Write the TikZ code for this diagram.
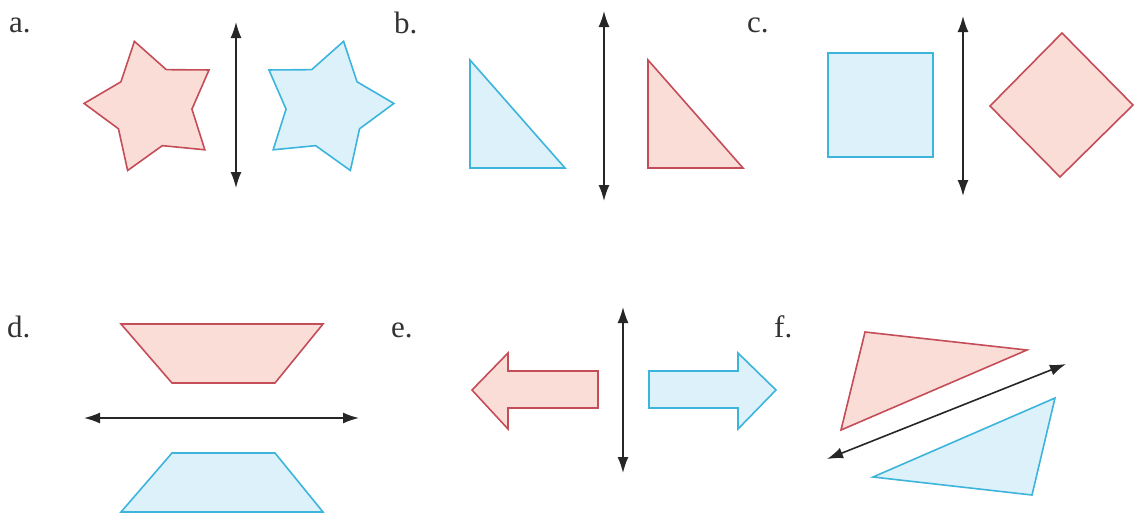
\documentclass[tikz,border=0pt]{standalone}
\usepackage{fontspec}
\setmainfont{Liberation Serif}
\usetikzlibrary{arrows.meta}
\definecolor{rline}{HTML}{C44D58}
\definecolor{rfill}{HTML}{F9DDD6}
\definecolor{bline}{HTML}{3CB4DC}
\definecolor{bfill}{HTML}{DDF1FA}
\begin{document}
\begin{tikzpicture}[x=1pt,y=-1pt,
  redshape/.style={draw=rline,fill=rfill,line width=1.6pt,line join=miter},
  blueshape/.style={draw=bline,fill=bfill,line width=1.6pt,line join=miter},
  axis/.style={{Latex[length=16pt,width=11pt]}-{Latex[length=16pt,width=11pt]},line width=1.6pt,black!85},
  lab/.style={anchor=base west,inner sep=0pt,text=black!80,font=\fontsize{31}{36}\selectfont}]
\useasboundingbox (0,0) rectangle (1138,515);
% labels
\node[lab] (la) at (9,32) {a.};
\node[lab] (lb) at (394,33) {b.};
\node[lab] (lc) at (747,32) {c.};
\node[lab] (ld) at (7,337) {d.};
\node[lab] (le) at (391,337) {e.};
\node[lab] (lf) at (774,337) {f.};
% a: stars (y axis points down, so polar angles are negated)
\draw[redshape,shift={(152,107)}] (-33:68) -- (-69:40) -- (-105:68) -- (-141:40) -- (-177:68) -- (-213:40) -- (-249:68) -- (-285:40) -- (-321:68) -- (-357:40) -- cycle;
\draw[blueshape,shift={(326,107)}] (-147:68) -- (-111:40) -- (-75:68) -- (-39:40) -- (-3:68) -- (-327:40) -- (-291:68) -- (-255:40) -- (-219:68) -- (-183:40) -- cycle;
\coordinate (a1) at (236,22);
\coordinate (a2) at (236,188);
\draw[axis] (a1) -- (a2);
% b: right triangles
\draw[blueshape] (470,60) -- (470,168) -- (565,168) -- cycle;
\draw[redshape] (648,60) -- (648,168) -- (743,168) -- cycle;
\coordinate (b1) at (604,11);
\coordinate (b2) at (604,201);
\draw[axis] (b1) -- (b2);
% c: square and diamond
\draw[blueshape] (828,53) rectangle (933,157);
\draw[redshape] (1062,33) -- (1133,105) -- (1060,177) -- (990,106) -- cycle;
\coordinate (c1) at (963,16);
\coordinate (c2) at (963,196);
\draw[axis] (c1) -- (c2);
% d: trapezoids
\draw[redshape] (121,324) -- (323,324) -- (275,383) -- (172,383) -- cycle;
\draw[blueshape] (172,453) -- (275,453) -- (323,512) -- (121,512) -- cycle;
\coordinate (d1) at (84,418);
\coordinate (d2) at (359,418);
\draw[axis] (d1) -- (d2);
% e: block arrows
\draw[redshape] (472,390) -- (508,353) -- (508,371) -- (598,371) -- (598,408) -- (508,408) -- (508,429) -- cycle;
\draw[blueshape] (776,390) -- (738,353) -- (738,371) -- (649,371) -- (649,408) -- (738,408) -- (738,429) -- cycle;
\coordinate (e1) at (623,307);
\coordinate (e2) at (623,473);
\draw[axis] (e1) -- (e2);
% f: triangles
\draw[redshape] (865,332) -- (1027,350) -- (841,430) -- cycle;
\draw[blueshape] (1055,398) -- (1032,495) -- (873,477) -- cycle;
\coordinate (f1) at (827,459);
\coordinate (f2) at (1066,364);
\draw[axis] (f1) -- (f2);
\end{tikzpicture}
\end{document}
